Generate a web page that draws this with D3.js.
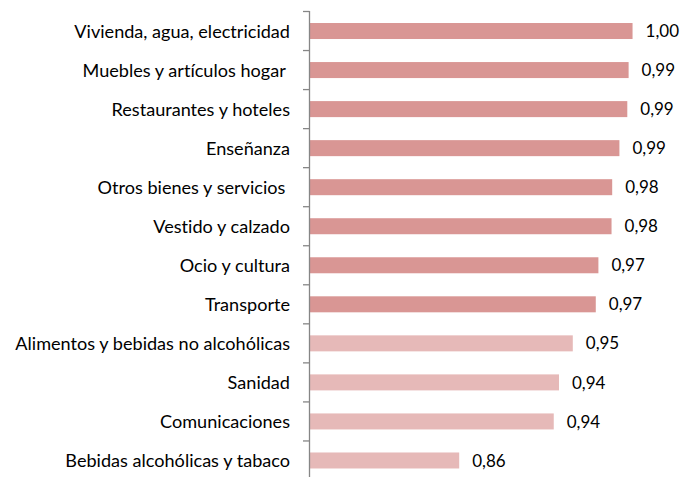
<!DOCTYPE html>
<html>
  <head>
    <meta charset="utf-8">
    <script src="https://d3js.org/d3.v7.min.js"></script>
    <style>
      body { margin: 0; background: #fff; }
      text { font-family: Lato, "Open Sans", sans-serif; fill: #000; font-variant-ligatures: none; }
    </style>
  </head>
  <body>
    <svg id="chart" width="684" height="477"></svg>
  </body>
  <script>
    const categories = [
      'Vivienda, agua, electricidad',
      'Muebles y artículos hogar ',
      'Restaurantes y hoteles',
      'Enseñanza',
      'Otros bienes y servicios ',
      'Vestido y calzado',
      'Ocio y cultura',
      'Transporte',
      'Alimentos y bebidas no alcohólicas',
      'Sanidad',
      'Comunicaciones',
      'Bebidas alcohólicas y tabaco'
    ]
    const values = [0.996, 0.993, 0.992, 0.986, 0.9805, 0.98, 0.970, 0.968, 0.9505, 0.94, 0.936, 0.864]
    // first 8 dark, last 4 light
    const shade = ['d', 'd', 'd', 'd', 'd', 'd', 'd', 'd', 'l', 'l', 'l', 'l']

    const data = categories.map((c, i) => ({ cat: c, value: values[i], shade: shade[i] }))

    const svg = d3.select('#chart')
    const axisX = 309.5

    const x = d3.scaleLinear().domain([0.75, 1.0]).range([axisX, axisX + 328.3])
    const y = d3.scaleBand().domain(categories).range([11.5, 480]).paddingInner(0.59).paddingOuter(0.295)

    const fmt = v => d3.format('.2f')(v).replace('.', ',')

    // bars
    svg.append('g').selectAll('rect').data(data).enter()
      .append('rect')
        .attr('x', axisX)
        .attr('y', d => y(d.cat))
        .attr('width', d => x(d.value) - axisX)
        .attr('height', y.bandwidth())
        .attr('fill', d => d.shade === 'd' ? '#d99694' : '#e6b9b8')

    // value labels
    svg.append('g').selectAll('text').data(data).enter()
      .append('text')
        .attr('x', d => x(d.value) + 13)
        .attr('y', d => y(d.cat) + y.bandwidth() / 2)
        .attr('dy', '0.36em')
        .style('font-size', '17px')
        .text(d => fmt(d.value))

    // category axis
    const boundaries = d3.range(categories.length + 1).map(i => 11.5 + i * y.step())
    const axis = svg.append('g')
    axis.append('line')
      .attr('x1', axisX).attr('x2', axisX)
      .attr('y1', 11).attr('y2', 480)
      .attr('stroke', '#868686').attr('stroke-width', 1.3)
    axis.selectAll('.tick').data(boundaries).enter()
      .append('line')
        .attr('x1', axisX - 6.5).attr('x2', axisX)
        .attr('y1', d => d).attr('y2', d => d)
        .attr('stroke', '#868686').attr('stroke-width', 1.3)

    axis.selectAll('.lbl').data(categories).enter()
      .append('text')
        .attr('x', 290)
        .attr('y', d => y(d) + y.bandwidth() / 2)
        .attr('dy', '0.36em')
        .attr('text-anchor', 'end')
        .style('font-size', '18.1px')
        .style('white-space', 'pre')
        .text(d => d)
  </script>
</html>
